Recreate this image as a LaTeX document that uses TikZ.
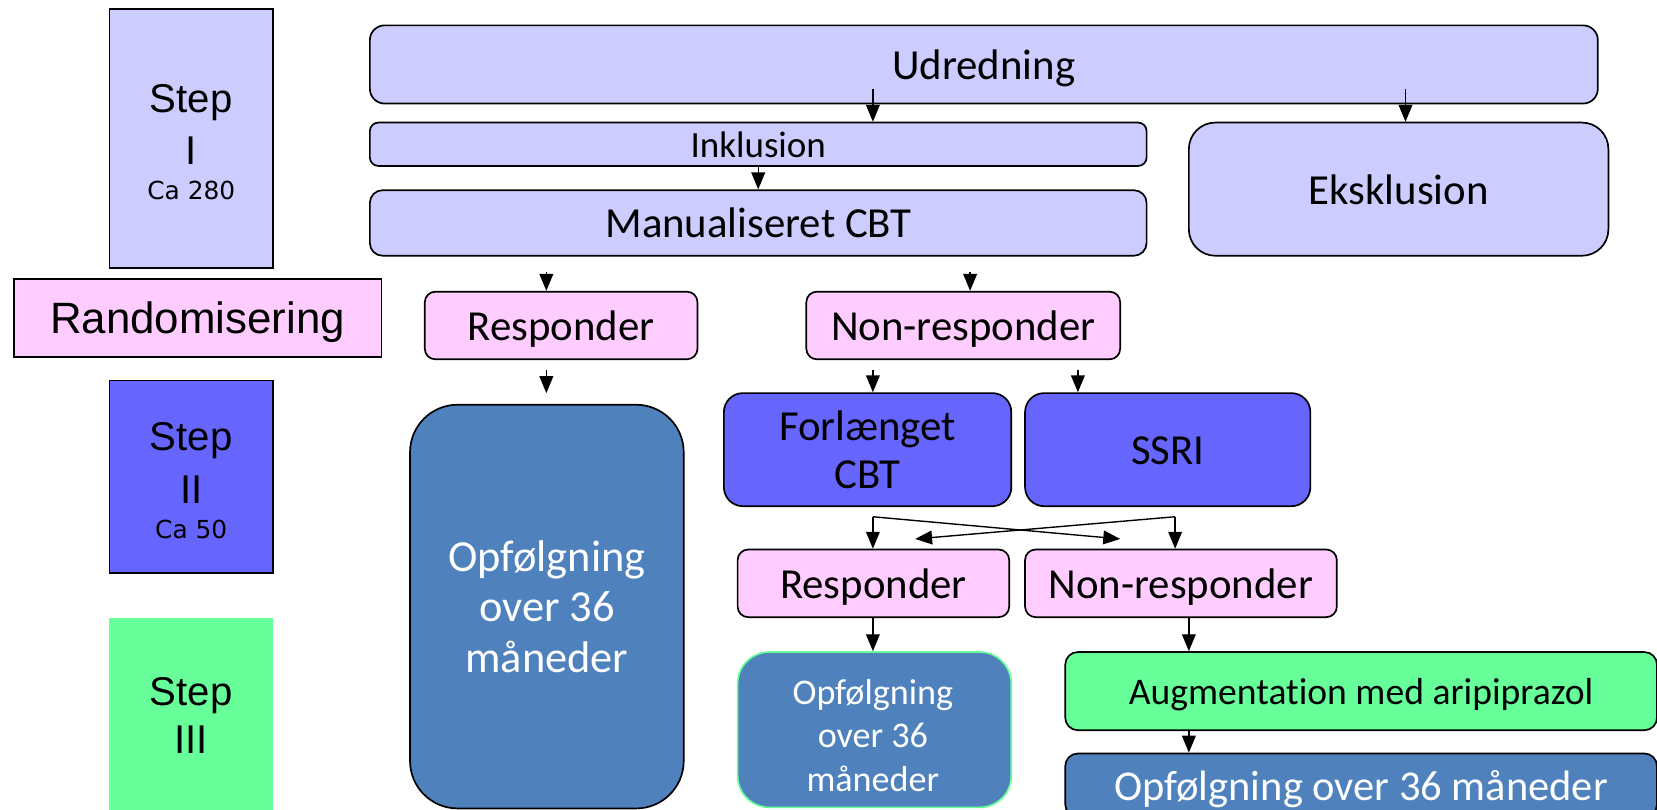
\documentclass[tikz,border=0pt]{standalone}
\usepackage{fontspec}
\setmainfont{Carlito}[Ligatures=NoCommon]
\newfontfamily\arialf{Liberation Sans}
\newfontfamily\verdf{DejaVu Sans}
\usetikzlibrary{arrows.meta}
\definecolor{lav}{HTML}{CCCCFF}
\definecolor{pinkc}{HTML}{FFCCFF}
\definecolor{bluec}{HTML}{6666FF}
\definecolor{steel}{HTML}{4F81BD}
\definecolor{greenc}{HTML}{66FF99}
\tikzset{
  bx/.style={draw=black, line width=1.6pt, inner sep=0pt, align=center, font=\fontsize{40.5}{46}\selectfont},
  one/.style={text height=#1*0.75pt, text depth=#1*0.05pt},
  one/.default=40.5,
  rbx/.style={bx, rounded corners=#1},
  rbx/.default=10pt,
  steptxt/.style={inner sep=0pt, anchor=base, font=\arialf\fontsize{38}{44}\selectfont},
  catxt/.style={inner sep=0pt, anchor=base, font=\verdf\fontsize{23.5}{28}\selectfont},
  wtxt/.style={inner sep=0pt, align=center, text=white},
  arr/.style={line width=1.3pt, -{Triangle[length=16pt,width=13pt]}},
}
\begin{document}
\begin{tikzpicture}[x=1pt,y=-1pt]
\useasboundingbox (0,0) rectangle (1568,765.6);
\clip (0,0) rectangle (1568,765.6);
\fill[white] (0,0) rectangle (1568,765.6);

% step column
\node[bx, fill=lav, minimum width=155pt, minimum height=245pt] (s1) at (181,131) {};
\node[steptxt] (s1a) at (181,106) {Step};
\node[steptxt] (s1b) at (181,156) {I};
\node[catxt] (s1c) at (181,189) {Ca 280};

\node[bx, one=41.5, fill=pinkc, minimum width=348pt, minimum height=74pt, font=\arialf\fontsize{41.5}{46}\selectfont] (rand) at (187,301) {Randomisering};

\node[bx, fill=bluec, minimum width=155pt, minimum height=182pt] (s2) at (181,451) {};
\node[steptxt] (s2a) at (181,426) {Step};
\node[steptxt] (s2b) at (181,476) {II};
\node[catxt] (s2c) at (181,510) {Ca 50};

\node[fill=greenc, inner sep=0pt, minimum width=155pt, minimum height=190pt] (s3) at (181,680) {};
\node[steptxt] (s3a) at (181,668) {Step};
\node[steptxt] (s3b) at (181,713) {III};

% top part
\node[rbx=14pt, one, fill=lav, minimum width=1162pt, minimum height=74pt] (udr) at (931,61) {Udredning};
\node[rbx=8pt, one=35, fill=lav, minimum width=735pt, minimum height=41pt, font=\fontsize{35}{40}\selectfont] (ink) at (717.5,136.5) {Inklusion};
\node[rbx=12pt, one, fill=lav, minimum width=735pt, minimum height=62pt] (cbt) at (717.5,211) {Manualiseret CBT};
\node[rbx=25pt, one, fill=lav, minimum width=397pt, minimum height=126pt] (eks) at (1323.5,179) {Eksklusion};

\node[rbx=10pt, one, fill=pinkc, minimum width=258pt, minimum height=64pt] (resp) at (531,308) {Responder};
\node[rbx=10pt, one, fill=pinkc, minimum width=297pt, minimum height=64pt] (nresp) at (911.5,308) {Non-responder};

\node[rbx=45pt, fill=steel, text=white, minimum width=259pt, minimum height=382pt, font=\fontsize{42}{47.5}\selectfont] (opf1) at (517.5,574) {Opfølgning\\over 36\\måneder};

\node[rbx=18pt, fill=bluec, minimum width=272pt, minimum height=107pt] (forl) at (821,425.5) {Forlænget\\CBT};
\node[rbx=18pt, one, fill=bluec, minimum width=270pt, minimum height=107pt] (ssri) at (1105,425.5) {SSRI};

\node[rbx=10pt, one, fill=pinkc, minimum width=257pt, minimum height=64pt] (resp2) at (826.5,552) {Responder};
\node[rbx=10pt, one, fill=pinkc, minimum width=295pt, minimum height=64pt] (nresp2) at (1117.5,552) {Non-responder};

\node[rbx=30pt, draw=greenc, fill=steel, minimum width=259pt, minimum height=147pt] (opf2) at (827.5,690.5) {};
\node[wtxt, font=\fontsize{34.2}{41}\selectfont] (opf2t) at (826,696) {Opfølgning\\over 36\\måneder};

\node[rbx=12pt, one=35.6, fill=greenc, minimum width=560pt, minimum height=74pt, font=\fontsize{35.6}{41}\selectfont] (aug) at (1288,654) {Augmentation med aripiprazol};

\node[rbx=12pt, one=40.2, fill=steel, text=white, minimum width=560pt, minimum height=60pt, font=\fontsize{40.2}{46}\selectfont] (opf3) at (1288,743) {Opfølgning over 36 måneder};

% arrow start / end points
\coordinate (u1) at (826,84);
\coordinate (u2) at (1330,84);
\coordinate (c1) at (517,257);
\coordinate (c2) at (918,257);
\coordinate (r1) at (517,350);
\coordinate (r1e) at (517,372);
\coordinate (n1) at (826,350);
\coordinate (n2) at (1020,350);
\coordinate (xl) at (826,489);
\coordinate (xr) at (1112,489);
\coordinate (xle) at (866,510);
\coordinate (xre) at (1060,510);
\coordinate (ax) at (1125,0);

\draw[arr] (u1) -- (u1 |- ink.north);
\draw[arr] (u2) -- (u2 |- eks.north);
\draw[arr] (ink.south) -- (cbt.north);
\draw[arr] (c1) -- (c1 |- resp.north);
\draw[arr] (c2) -- (c2 |- nresp.north);
\draw[arr] (r1) -- (r1e);
\draw[arr] (n1) -- (n1 |- forl.north);
\draw[arr] (n2) -- (n2 |- ssri.north);
\draw[arr] (xl) -- (xl |- resp2.north);
\draw[arr] (xr) -- (xr |- nresp2.north);
\draw[arr] (xl) -- (xre);
\draw[arr] (xr) -- (xle);
\draw[arr] (resp2.south -| xl) -- (xl |- opf2.north);
\draw[arr] (nresp2.south -| ax) -- (ax |- aug.north);
\draw[arr] (aug.south -| ax) -- (ax |- opf3.north);
\end{tikzpicture}
\end{document}
